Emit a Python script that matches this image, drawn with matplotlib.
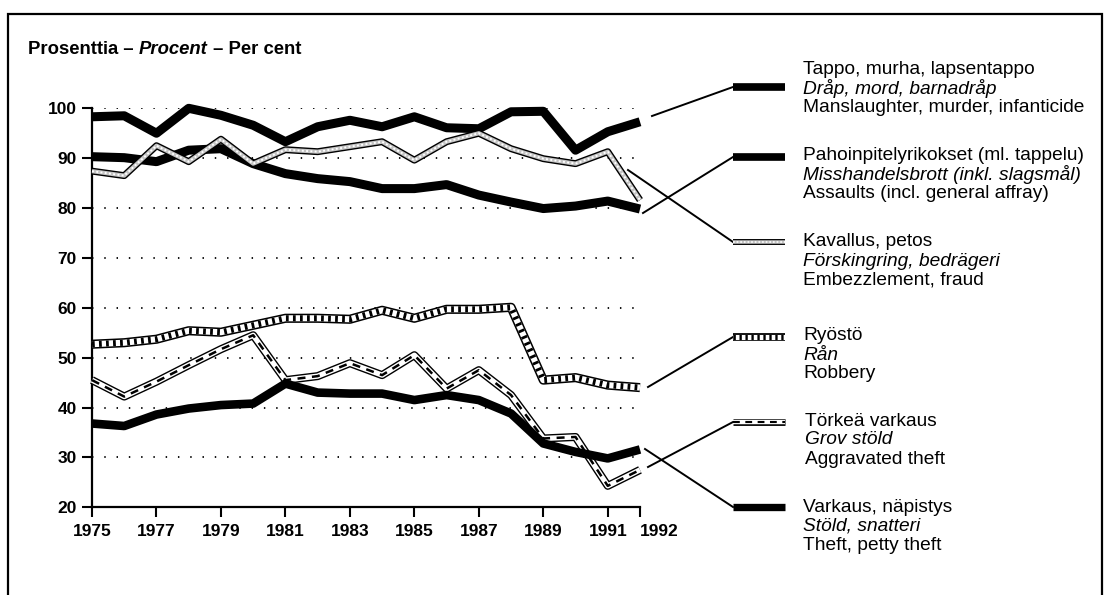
import matplotlib
matplotlib.use('Agg')
import matplotlib.pyplot as plt
from matplotlib.lines import Line2D
from matplotlib.patches import Rectangle

# ---------------- data ----------------
years = list(range(1975, 1993))
manslaughter = [98.3, 98.5, 95.0, 100.0, 98.6, 96.6, 93.3, 96.3, 97.6, 96.3, 98.3, 96.1, 95.9, 99.3, 99.4, 91.6, 95.3, 97.3]
assaults = [90.3, 90.1, 89.3, 91.6, 91.9, 88.9, 86.9, 85.9, 85.3, 83.9, 83.9, 84.7, 82.6, 81.2, 79.9, 80.4, 81.4, 79.8]
embezzlement = [87.4, 86.5, 92.5, 89.3, 93.8, 88.9, 91.7, 91.3, 92.3, 93.3, 89.6, 93.3, 95.0, 91.9, 89.9, 88.9, 91.3, 81.6]
robbery = [52.7, 53.0, 53.7, 55.4, 55.1, 56.5, 57.9, 57.9, 57.7, 59.5, 57.9, 59.7, 59.7, 60.1, 45.5, 46.0, 44.5, 44.0]
aggravated_theft = [45.5, 42.2, 45.2, 48.5, 51.7, 54.5, 45.5, 46.3, 48.9, 46.5, 50.5, 43.8, 47.5, 42.5, 33.8, 34.1, 24.3, 27.5]
theft = [36.8, 36.3, 38.6, 39.8, 40.5, 40.8, 44.8, 43.0, 42.8, 42.8, 41.5, 42.5, 41.5, 38.8, 32.8, 31.1, 29.8, 31.6]

xtick_years = [1975, 1977, 1979, 1981, 1983, 1985, 1987, 1989, 1991, 1992]
ytick_values = [20, 30, 40, 50, 60, 70, 80, 90, 100]

labels_fi = ["Tappo, murha, lapsentappo", "Pahoinpitelyrikokset (ml. tappelu)", "Kavallus, petos",
             "Ryöstö", "Törkeä varkaus", "Varkaus, näpistys"]
labels_sv = ["Dråp, mord, barnadråp", "Misshandelsbrott (inkl. slagsmål)", "Förskingring, bedrägeri",
             "Rån", "Grov stöld", "Stöld, snatteri"]
labels_en = ["Manslaughter, murder, infanticide", "Assaults (incl. general affray)", "Embezzlement, fraud",
             "Robbery", "Aggravated theft", "Theft, petty theft"]

title_parts = ["Prosenttia – ", "Procent", " – Per cent"]

# ---------------- styles ----------------
FONT = ['Liberation Sans', 'DejaVu Sans']
plt.rcParams['font.family'] = FONT

W, H = 1106, 595
fig = plt.figure(figsize=(W / 100, H / 100), dpi=100)

def fx(px):
    return px / W

def fy(py):
    return 1 - py / H

ax = fig.add_axes([fx(92), fy(507.3), fx(640) - fx(92), fy(108.3) - fy(507.3)])

series = [manslaughter, assaults, embezzlement, robbery, aggravated_theft, theft]
styles = [
    [dict(color='black', lw=6.5)],
    [dict(color='black', lw=6.5)],
    [dict(color='black', lw=5.0), dict(color='#c4c4c4', lw=3.0),
     dict(color='white', lw=1.4, dashes=(1, 1.2))],
    [dict(color='black', lw=6.6), dict(color='white', lw=4.4),
     dict(color='black', lw=4.4, dashes=(0.45, 0.7))],
    [dict(color='black', lw=5.8), dict(color='white', lw=3.8),
     dict(color='black', lw=1.8, dashes=(3.2, 2.6))],
    [dict(color='black', lw=6.2)],
]
zorders = [6, 5, 7, 4, 8, 9]

for vals, st, z in zip(series, styles, zorders):
    for i, layer in enumerate(st):
        kw = dict(color=layer['color'], lw=layer['lw'], solid_joinstyle='round',
                  solid_capstyle='butt', dash_capstyle='butt', zorder=z + i * 0.01,
                  clip_on=False)
        if 'dashes' in layer:
            kw['dashes'] = layer['dashes']
        ax.plot(years, vals, **kw)

ax.set_xlim(1975, 1992)
ax.set_ylim(20, 100)
ax.set_xticks(xtick_years)
ax.set_xticklabels([str(y) for y in xtick_years])
ax.set_yticks(ytick_values)
ax.set_yticklabels([str(v) for v in ytick_values])
for lab in ax.get_xticklabels() + ax.get_yticklabels():
    lab.set_fontweight('bold')
    lab.set_fontsize(12.5)
ax.get_xticklabels()[-1].set_horizontalalignment('left')

ax.tick_params(axis='both', direction='out', length=7, width=1.5, color='black', pad=4)
ax.tick_params(axis='x', pad=5)
for s in ['top', 'right']:
    ax.spines[s].set_visible(False)
for s in ['left', 'bottom']:
    ax.spines[s].set_linewidth(1.6)
ax.spines['bottom'].set_zorder(1)

for v in ytick_values[1:]:
    ax.axhline(v, color='black', lw=1.3, dashes=(0.8, 6.0), zorder=1)
ax.set_facecolor('white')

# frame
fig.patches.append(Rectangle((fx(8), fy(640)), fx(1102) - fx(8), fy(14) - fy(640),
                             transform=fig.transFigure, fill=False, lw=1.6,
                             edgecolor='black'))

# title with italic middle part
fig.canvas.draw()
renderer = fig.canvas.get_renderer()
xcur = fx(28)
for j, part in enumerate(title_parts):
    t = fig.text(xcur, fy(50), part, fontsize=13.3, fontweight='bold',
                 fontstyle='italic' if j == 1 else 'normal', va='center', ha='left')
    bb = t.get_window_extent(renderer)
    xcur += bb.width / W

# legend: swatches, leaders and text
sw_y = [87, 157, 242, 337, 422, 507]
leader_start = [(652, 116), (643, 213), (628, 170), (648, 387), (648, 467), (645, 449)]
text_first_y = [70, 155, 242, 336, 421, 507]
text_x = [803, 803, 803, 803, 805, 803]
line_gap = 19
LFS = 13.8

for i in range(6):
    y = sw_y[i]
    x0, y0 = leader_start[i]
    fig.add_artist(Line2D([fx(x0), fx(733)], [fy(y0), fy(y)], transform=fig.transFigure,
                          color='black', lw=1.4))
    for k, layer in enumerate(styles[i]):
        kw = dict(color=layer['color'], lw=layer['lw'] * 0.85, solid_capstyle='butt',
                  dash_capstyle='butt', transform=fig.transFigure, zorder=3 + k)
        if 'dashes' in layer:
            kw['dashes'] = layer['dashes']
        fig.add_artist(Line2D([fx(733), fx(785)], [fy(y), fy(y)], **kw))
    ty = text_first_y[i]
    fig.text(fx(text_x[i]), fy(ty), labels_fi[i], fontsize=LFS, va='center', ha='left')
    fig.text(fx(text_x[i]), fy(ty + line_gap), labels_sv[i], fontsize=LFS, va='center',
             ha='left', fontstyle='italic')
    fig.text(fx(text_x[i]), fy(ty + 2 * line_gap), labels_en[i], fontsize=LFS, va='center',
             ha='left')

fig.savefig('out.png', dpi=100, facecolor='white')
